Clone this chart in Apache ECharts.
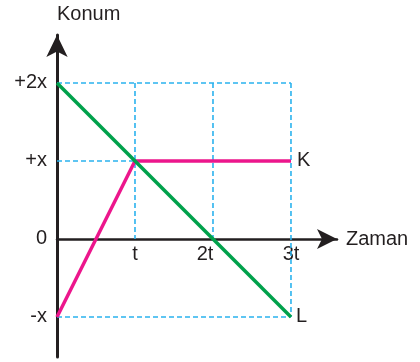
<!DOCTYPE html>
<html>
<head>
<meta charset="utf-8">
<script src="https://cdn.jsdelivr.net/npm/echarts@6/dist/echarts.min.js"></script>
<style>
  html, body { margin: 0; padding: 0; background: #fff; }
  #chart { width: 420px; height: 362px; }
</style>
</head>
<body>
<div id="chart"></div>
<script>
var xTicks = [1, 2, 3];
var xTickLabels = ["t", "2t", "3t"];
var yTicks = [-1, 0, 1, 2];
var yTickLabels = ["-x", "0", "+x", "+2x"];

// K: konum-zaman (pembe), L: (yeşil)
var seriesK = [[0, -1], [1, 1], [3, 1]];
var seriesL = [[0, 2], [3, -1]];

// kesikli yardımcı çizgiler
var guides = [
  [[0, 2], [3, 2]],
  [[1, 2], [1, 0]],
  [[2, 2], [2, 0]],
  [[3, 2], [3, -1]],
  [[0, 1], [1, 1]],
  [[0, -1], [3, -1]]
];

var myChart = echarts.init(document.getElementById("chart"));
var font = "Liberation Sans, Arial, sans-serif";

var series = guides.map(function (g) {
  return {
    type: "line",
    data: g,
    symbol: "none",
    silent: true,
    z: 1,
    lineStyle: { color: "#2ab2ee", width: 1.6, type: [5, 3] }
  };
});

series.push({
  name: "K",
  type: "line",
  data: seriesK,
  symbol: "none",
  z: 3,
  lineStyle: { color: "#ec168c", width: 3.5 },
  endLabel: { show: true, formatter: "K", color: "#231f20", fontSize: 20, fontFamily: font, distance: 6 }
});
series.push({
  name: "L",
  type: "line",
  data: seriesL,
  symbol: "none",
  z: 4,
  lineStyle: { color: "#00a14b", width: 3.5 },
  endLabel: { show: true, formatter: "L", color: "#231f20", fontSize: 20, fontFamily: font, distance: 5 }
});

var option = {
  animation: false,
  grid: { left: 57, right: 83, top: 35, bottom: 5, outerBoundsMode: "none", containLabel: false },
  xAxis: {
    type: "value",
    min: 0,
    max: 3.59,
    offset: -118,
    name: "Zaman",
    nameLocation: "end",
    nameGap: 9,
    nameTextStyle: { color: "#231f20", fontSize: 20, fontFamily: font, verticalAlign: "middle" },
    axisLine: {
      onZero: false,
      symbol: ["none", "arrow"],
      symbolSize: [15, 20],
      lineStyle: { color: "#231f20", width: 2.5 }
    },
    axisTick: { show: false },
    splitLine: { show: false },
    axisLabel: {
      customValues: xTicks,
      margin: 5,
      color: "#231f20",
      fontSize: 20,
      fontFamily: font,
      formatter: function (v) {
        var s = xTickLabels[xTicks.indexOf(v)];
        return v === 2 ? "{s|" + s + "}" : s;
      },
      rich: { s: { fontSize: 20, fontFamily: font, color: "#231f20", padding: [0, 16, 0, 0] } }
    }
  },
  yAxis: {
    type: "value",
    min: -1.513,
    max: 2.615,
    name: "Konum",
    nameLocation: "end",
    nameGap: 11,
    nameTextStyle: { color: "#231f20", fontSize: 20, fontFamily: font, align: "left" },
    axisLine: {
      onZero: false,
      symbol: ["none", "arrow"],
      symbolSize: [16, 22],
      lineStyle: { color: "#231f20", width: 3 }
    },
    axisTick: { show: false },
    splitLine: { show: false },
    axisLabel: {
      customValues: yTicks,
      margin: 10,
      color: "#231f20",
      fontSize: 20,
      fontFamily: font,
      formatter: function (v) {
        return yTickLabels[yTicks.indexOf(v)];
      }
    }
  },
  series: series
};

myChart.setOption(option);
</script>
</body>
</html>
